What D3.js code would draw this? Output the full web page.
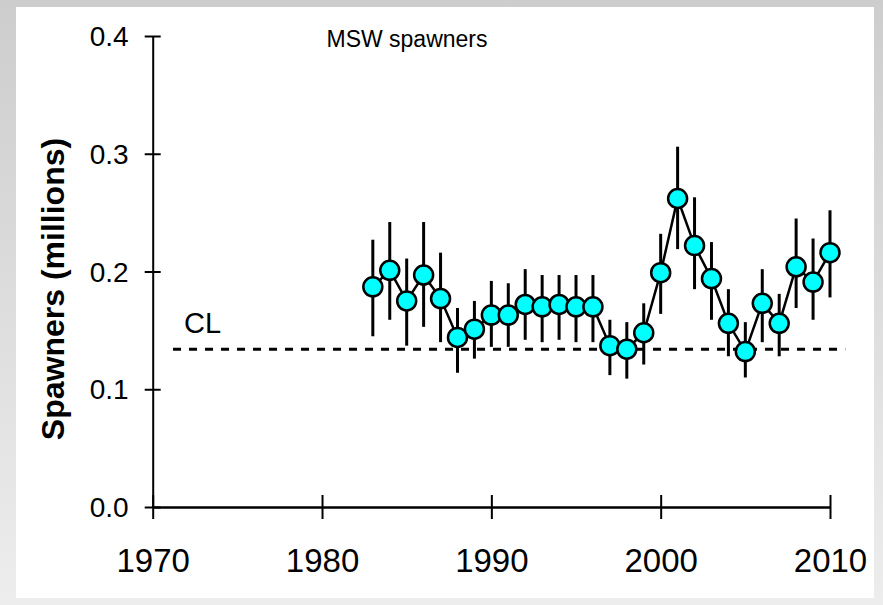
<!DOCTYPE html>
<html>
<head>
<meta charset="utf-8">
<script src="https://cdn.jsdelivr.net/npm/d3@7"></script>
<style>
  body { margin: 0; }
  svg { display: block; font-family: "Liberation Sans", Arial, sans-serif; }
</style>
</head>
<body>
<div id="app"></div>
<script>
// data (millions of spawners)
const years = d3.range(1983, 2011);
const spawners = [0.187, 0.201, 0.175, 0.197, 0.177, 0.144, 0.151, 0.163, 0.163, 0.172,
  0.170, 0.172, 0.170, 0.170, 0.137, 0.134, 0.148, 0.199, 0.262, 0.222,
  0.194, 0.156, 0.132, 0.173, 0.156, 0.204, 0.191, 0.216];
const upper = [0.227, 0.242, 0.211, 0.242, 0.216, 0.169, 0.175, 0.192, 0.190, 0.202,
  0.197, 0.197, 0.197, 0.197, 0.159, 0.157, 0.173, 0.232, 0.306, 0.263,
  0.225, 0.185, 0.157, 0.202, 0.181, 0.245, 0.228, 0.252];
const lower = [0.145, 0.159, 0.137, 0.153, 0.140, 0.114, 0.126, 0.136, 0.136, 0.142,
  0.140, 0.142, 0.140, 0.140, 0.112, 0.109, 0.121, 0.164, 0.219, 0.185,
  0.159, 0.128, 0.110, 0.140, 0.128, 0.169, 0.159, 0.178];
const conservationLimit = 0.134;
const clYears = [1971.2, 2010.9];
const xTicks = [1970, 1980, 1990, 2000, 2010];
const yTicks = [0.0, 0.1, 0.2, 0.3, 0.4];

const W = 883, H = 605;
const svg = d3.select('#app').append('svg').attr('width', W).attr('height', H);

// grey frame with white panel
const defs = svg.append('defs');
const grad = defs.append('linearGradient').attr('id', 'bg').attr('x1', 0).attr('y1', 0).attr('x2', 0).attr('y2', 1);
grad.append('stop').attr('offset', '0%').attr('stop-color', '#cdcdcd');
grad.append('stop').attr('offset', '100%').attr('stop-color', '#ededed');
svg.append('rect').attr('width', W).attr('height', H).attr('fill', 'url(#bg)');
svg.append('rect').attr('x', 16).attr('y', 7).attr('width', 858).attr('height', 591).attr('fill', '#fff');

const x = d3.scaleLinear().domain([1970, 2010]).range([152.7, 830]);
const y = d3.scaleLinear().domain([0, 0.4]).range([507, 36]);

// y axis
const yAxis = svg.append('g')
  .attr('transform', `translate(${x(1970)},0)`)
  .call(d3.axisLeft(y).tickValues(yTicks).tickSize(8).tickSizeOuter(0).tickFormat(d3.format('.1f')));
yAxis.select('.domain').attr('stroke', '#000').attr('stroke-width', 2);
yAxis.selectAll('.tick line').attr('x1', 8).attr('x2', -8).attr('stroke', '#000').attr('stroke-width', 2);
yAxis.selectAll('.tick text').attr('x', -24).attr('dy', '0.34em')
  .attr('font-size', 28).attr('fill', '#000').attr('font-family', 'Liberation Sans, Arial, sans-serif');

// x axis
const xAxis = svg.append('g')
  .attr('transform', `translate(0,${y(0)})`)
  .call(d3.axisBottom(x).tickValues(xTicks).tickSize(12).tickSizeOuter(0).tickFormat(d3.format('d')));
xAxis.select('.domain').attr('stroke', '#000').attr('stroke-width', 2.5);
xAxis.selectAll('.tick line').attr('y1', -12).attr('y2', 12).attr('stroke', '#000').attr('stroke-width', 2);
xAxis.selectAll('.tick text').attr('y', 65).attr('dy', 0)
  .attr('font-size', 33).attr('fill', '#000').attr('font-family', 'Liberation Sans, Arial, sans-serif');

// axis title
svg.append('text')
  .attr('transform', `translate(64,${289}) rotate(-90)`)
  .attr('text-anchor', 'middle')
  .attr('font-size', 32)
  .attr('font-weight', 700)
  .text('Spawners (millions)');

// chart title
svg.append('text')
  .attr('x', 407).attr('y', 47)
  .attr('text-anchor', 'middle')
  .attr('font-size', 23)
  .text('MSW spawners');

// conservation limit
svg.append('line')
  .attr('x1', x(clYears[0])).attr('x2', x(clYears[1]))
  .attr('y1', y(conservationLimit)).attr('y2', y(conservationLimit))
  .attr('stroke', '#000').attr('stroke-width', 3).attr('stroke-dasharray', '8,8');
svg.append('text')
  .attr('x', x(clYears[0]) + 11).attr('y', y(conservationLimit) - 16)
  .attr('font-size', 29)
  .text('CL');

const pts = years.map((yr, i) => ({ yr, v: spawners[i], hi: upper[i], lo: lower[i] }));

// error bars
svg.append('g').selectAll('line').data(pts).enter().append('line')
  .attr('x1', d => x(d.yr)).attr('x2', d => x(d.yr))
  .attr('y1', d => y(d.hi)).attr('y2', d => y(d.lo))
  .attr('stroke', '#000').attr('stroke-width', 3);

// series line
svg.append('path').datum(pts)
  .attr('fill', 'none').attr('stroke', '#000').attr('stroke-width', 2.5)
  .attr('d', d3.line().x(d => x(d.yr)).y(d => y(d.v)));

// markers
svg.append('g').selectAll('circle').data(pts).enter().append('circle')
  .attr('cx', d => x(d.yr)).attr('cy', d => y(d.v)).attr('r', 9.5)
  .attr('fill', '#00ffff').attr('stroke', '#000').attr('stroke-width', 2.5);
</script>
</body>
</html>
